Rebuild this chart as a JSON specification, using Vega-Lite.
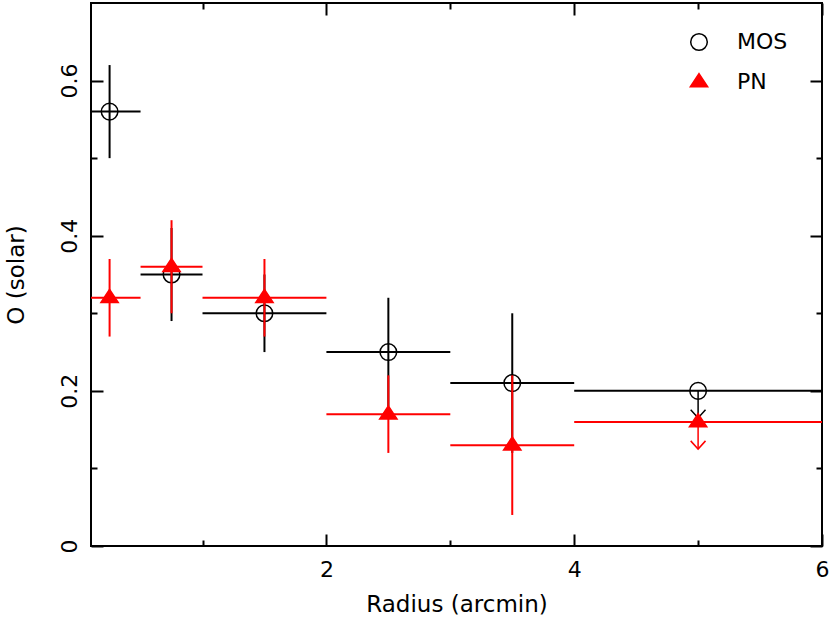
{
  "$schema": "https://vega.github.io/schema/vega-lite/v6.json",
  "autosize": "none",
  "width": 731,
  "height": 543,
  "padding": {"left": 91, "top": 3, "right": 8, "bottom": 71},
  "background": "white",
  "config": {
    "view": {"stroke": "black", "strokeWidth": 2},
    "font": "DejaVu Sans",
    "axis": {
      "domain": false, "grid": false, "tickColor": "black", "tickWidth": 2,
      "labelFont": "DejaVu Sans", "labelFontSize": 22, "labelColor": "black",
      "titleFont": "DejaVu Sans", "titleFontSize": 23, "titleFontWeight": "normal", "titleColor": "black",
      "labelFlush": false, "labelOverlap": false
    },
    "legend": {
      "orient": "none", "legendX": 597, "legendY": 28, "padding": 0,
      "labelFont": "DejaVu Sans", "labelFontSize": 22, "labelOffset": 27,
      "rowPadding": 16, "symbolStrokeWidth": 1.5
    }
  },
  "data": {
    "values": [
      {"series": "MOS", "r": 0.25, "r_lo": 0, "r_hi": 0.5, "o": 0.56, "o_lo": 0.50, "o_hi": 0.62, "limit": false},
      {"series": "MOS", "r": 0.75, "r_lo": 0.5, "r_hi": 1.0, "o": 0.35, "o_lo": 0.29, "o_hi": 0.41, "limit": false},
      {"series": "MOS", "r": 1.5, "r_lo": 1, "r_hi": 2, "o": 0.30, "o_lo": 0.25, "o_hi": 0.35, "limit": false},
      {"series": "MOS", "r": 2.5, "r_lo": 2, "r_hi": 3, "o": 0.25, "o_lo": 0.18, "o_hi": 0.32, "limit": false},
      {"series": "MOS", "r": 3.5, "r_lo": 3, "r_hi": 4, "o": 0.21, "o_lo": 0.12, "o_hi": 0.30, "limit": false},
      {"series": "MOS", "r": 5, "r_lo": 4, "r_hi": 6, "o": 0.20, "o_lo": 0.165, "o_hi": 0.20, "limit": true},
      {"series": "PN", "r": 0.25, "r_lo": 0, "r_hi": 0.5, "o": 0.32, "o_lo": 0.27, "o_hi": 0.37, "limit": false},
      {"series": "PN", "r": 0.75, "r_lo": 0.5, "r_hi": 1.0, "o": 0.36, "o_lo": 0.30, "o_hi": 0.42, "limit": false},
      {"series": "PN", "r": 1.5, "r_lo": 1, "r_hi": 2, "o": 0.32, "o_lo": 0.27, "o_hi": 0.37, "limit": false},
      {"series": "PN", "r": 2.5, "r_lo": 2, "r_hi": 3, "o": 0.17, "o_lo": 0.12, "o_hi": 0.22, "limit": false},
      {"series": "PN", "r": 3.5, "r_lo": 3, "r_hi": 4, "o": 0.13, "o_lo": 0.04, "o_hi": 0.22, "limit": false},
      {"series": "PN", "r": 5, "r_lo": 4, "r_hi": 6, "o": 0.16, "o_lo": 0.125, "o_hi": 0.16, "limit": true}
    ]
  },
  "resolve": {"axis": {"x": "independent", "y": "independent"}},
  "layer": [
    {
      "transform": [{"filter": "datum.series === 'MOS'"}],
      "mark": {"type": "rule", "color": "black", "strokeWidth": 2, "clip": true},
      "encoding": {
        "x": {"field": "r_lo", "type": "quantitative", "scale": {"domain": [0.1, 6], "nice": false, "zero": false},
          "axis": {"orient": "bottom", "title": "Radius (arcmin)", "values": [1, 2, 3, 4, 5, 6], "format": "d",
            "labelExpr": "datum.value % 2 === 0 ? datum.label : ''",
            "tickSize": {"condition": {"test": "datum.value % 2 === 0", "value": -12}, "value": -6},
            "labelPadding": 25, "titlePadding": 7}},
        "x2": {"field": "r_hi"},
        "y": {"field": "o", "type": "quantitative", "scale": {"domain": [0, 0.7], "nice": false, "zero": false},
          "axis": {"orient": "left", "title": "O (solar)", "values": [0, 0.1, 0.2, 0.3, 0.4, 0.5, 0.6], "format": ".1~f",
            "labelExpr": "round(datum.value * 10) % 2 === 0 ? datum.label : ''",
            "tickSize": {"condition": {"test": "round(datum.value * 10) % 2 === 0", "value": -12}, "value": -6},
            "labelAngle": -90, "labelAlign": "center", "labelBaseline": "alphabetic",
            "labelPadding": 27, "titlePadding": 24}}
      }
    },
    {
      "transform": [{"filter": "datum.series === 'MOS' && !datum.limit"}],
      "mark": {"type": "rule", "color": "black", "strokeWidth": 2, "clip": true},
      "encoding": {
        "x": {"field": "r", "type": "quantitative", "scale": {"domain": [0.1, 6], "nice": false, "zero": false}, "axis": null},
        "y": {"field": "o_lo", "type": "quantitative", "scale": {"domain": [0, 0.7], "nice": false, "zero": false}, "axis": null},
        "y2": {"field": "o_hi"}
      }
    },
    {
      "transform": [{"filter": "datum.series === 'MOS' && datum.limit"}],
      "mark": {"type": "rule", "color": "black", "strokeWidth": 1.5, "clip": true},
      "encoding": {
        "x": {"field": "r", "type": "quantitative", "scale": {"domain": [0.1, 6], "nice": false, "zero": false}, "axis": null},
        "y": {"field": "o_lo", "type": "quantitative", "scale": {"domain": [0, 0.7], "nice": false, "zero": false}, "axis": null},
        "y2": {"field": "o_hi"}
      }
    },
    {
      "transform": [{"filter": "datum.series === 'MOS' && datum.limit"}],
      "mark": {"type": "point", "shape": "M-1,-1.1L0,0L1,-1.1", "filled": false, "stroke": "black", "strokeWidth": 1.5, "size": 220, "opacity": 1},
      "encoding": {
        "x": {"field": "r", "type": "quantitative", "scale": {"domain": [0.1, 6], "nice": false, "zero": false}, "axis": null},
        "y": {"field": "o_lo", "type": "quantitative", "scale": {"domain": [0, 0.7], "nice": false, "zero": false}, "axis": null}
      }
    },
    {
      "transform": [{"filter": "datum.series === 'MOS'"}],
      "mark": {"type": "point", "filled": true, "strokeWidth": 1.5, "opacity": 1},
      "encoding": {
        "x": {"field": "r", "type": "quantitative", "scale": {"domain": [0.1, 6], "nice": false, "zero": false}, "axis": null},
        "y": {"field": "o", "type": "quantitative", "scale": {"domain": [0, 0.7], "nice": false, "zero": false}, "axis": null},
        "shape": {"field": "series", "type": "nominal", "title": null, "scale": {"domain": ["MOS", "PN"], "range": ["circle", "M0,-0.96L1,0.55L-1,0.55Z"]},
          "legend": {"encode": {"labels": {"update": {"fill": {"signal": "datum.value === 'PN' ? '#ff0000' : '#000000'"}}}}}},
        "stroke": {"field": "series", "type": "nominal", "title": null, "scale": {"domain": ["MOS", "PN"], "range": ["#000000", "#ff0000"]},
          "legend": {"encode": {"labels": {"update": {"fill": {"signal": "datum.value === 'PN' ? '#ff0000' : '#000000'"}}}}}},
        "fill": {"field": "series", "type": "nominal", "title": null, "scale": {"domain": ["MOS", "PN"], "range": ["transparent", "#ff0000"]},
          "legend": {"encode": {"labels": {"update": {"fill": {"signal": "datum.value === 'PN' ? '#ff0000' : '#000000'"}}}}}},
        "size": {"field": "series", "type": "nominal", "title": null, "scale": {"domain": ["MOS", "PN"], "range": [275, 300]},
          "legend": {"encode": {"labels": {"update": {"fill": {"signal": "datum.value === 'PN' ? '#ff0000' : '#000000'"}}}}}}
      }
    },
    {
      "transform": [{"filter": "datum.series === 'PN'"}],
      "mark": {"type": "rule", "color": "#ff0000", "strokeWidth": 2, "clip": true},
      "encoding": {
        "x": {"field": "r_lo", "type": "quantitative", "scale": {"domain": [0.1, 6], "nice": false, "zero": false},
          "axis": {"orient": "top", "title": null, "labels": false, "values": [1, 2, 3, 4, 5, 6],
            "tickSize": {"condition": {"test": "datum.value % 2 === 0", "value": -12}, "value": -6}}},
        "x2": {"field": "r_hi"},
        "y": {"field": "o", "type": "quantitative", "scale": {"domain": [0, 0.7], "nice": false, "zero": false},
          "axis": {"orient": "right", "title": null, "labels": false, "values": [0, 0.1, 0.2, 0.3, 0.4, 0.5, 0.6],
            "tickSize": {"condition": {"test": "round(datum.value * 10) % 2 === 0", "value": -12}, "value": -6}}}
      }
    },
    {
      "transform": [{"filter": "datum.series === 'PN' && !datum.limit"}],
      "mark": {"type": "rule", "color": "#ff0000", "strokeWidth": 2, "clip": true},
      "encoding": {
        "x": {"field": "r", "type": "quantitative", "scale": {"domain": [0.1, 6], "nice": false, "zero": false}, "axis": null},
        "y": {"field": "o_lo", "type": "quantitative", "scale": {"domain": [0, 0.7], "nice": false, "zero": false}, "axis": null},
        "y2": {"field": "o_hi"}
      }
    },
    {
      "transform": [{"filter": "datum.series === 'PN' && datum.limit"}],
      "mark": {"type": "rule", "color": "#ff0000", "strokeWidth": 1.5, "clip": true},
      "encoding": {
        "x": {"field": "r", "type": "quantitative", "scale": {"domain": [0.1, 6], "nice": false, "zero": false}, "axis": null},
        "y": {"field": "o_lo", "type": "quantitative", "scale": {"domain": [0, 0.7], "nice": false, "zero": false}, "axis": null},
        "y2": {"field": "o_hi"}
      }
    },
    {
      "transform": [{"filter": "datum.series === 'PN' && datum.limit"}],
      "mark": {"type": "point", "shape": "M-1,-1.1L0,0L1,-1.1", "filled": false, "stroke": "#ff0000", "strokeWidth": 1.5, "size": 220, "opacity": 1},
      "encoding": {
        "x": {"field": "r", "type": "quantitative", "scale": {"domain": [0.1, 6], "nice": false, "zero": false}, "axis": null},
        "y": {"field": "o_lo", "type": "quantitative", "scale": {"domain": [0, 0.7], "nice": false, "zero": false}, "axis": null}
      }
    },
    {
      "transform": [{"filter": "datum.series === 'PN'"}],
      "mark": {"type": "point", "filled": true, "strokeWidth": 1.5, "opacity": 1},
      "encoding": {
        "x": {"field": "r", "type": "quantitative", "scale": {"domain": [0.1, 6], "nice": false, "zero": false}, "axis": null},
        "y": {"field": "o", "type": "quantitative", "scale": {"domain": [0, 0.7], "nice": false, "zero": false}, "axis": null},
        "shape": {"field": "series", "type": "nominal", "title": null, "scale": {"domain": ["MOS", "PN"], "range": ["circle", "M0,-0.96L1,0.55L-1,0.55Z"]},
          "legend": {"encode": {"labels": {"update": {"fill": {"signal": "datum.value === 'PN' ? '#ff0000' : '#000000'"}}}}}},
        "stroke": {"field": "series", "type": "nominal", "title": null, "scale": {"domain": ["MOS", "PN"], "range": ["#000000", "#ff0000"]},
          "legend": {"encode": {"labels": {"update": {"fill": {"signal": "datum.value === 'PN' ? '#ff0000' : '#000000'"}}}}}},
        "fill": {"field": "series", "type": "nominal", "title": null, "scale": {"domain": ["MOS", "PN"], "range": ["transparent", "#ff0000"]},
          "legend": {"encode": {"labels": {"update": {"fill": {"signal": "datum.value === 'PN' ? '#ff0000' : '#000000'"}}}}}},
        "size": {"field": "series", "type": "nominal", "title": null, "scale": {"domain": ["MOS", "PN"], "range": [275, 300]},
          "legend": {"encode": {"labels": {"update": {"fill": {"signal": "datum.value === 'PN' ? '#ff0000' : '#000000'"}}}}}}
      }
    }
  ]
}
